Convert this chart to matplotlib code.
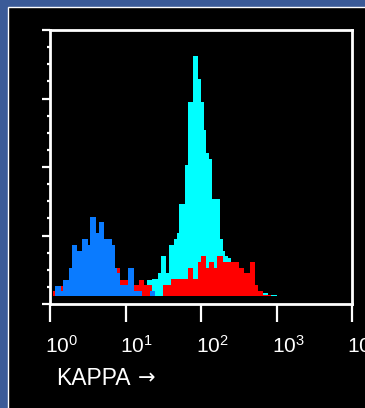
import numpy as np
import matplotlib
matplotlib.use("Agg")
import matplotlib.pyplot as plt
from matplotlib.patches import Rectangle
from matplotlib.ticker import LogLocator, NullFormatter, FixedLocator
import matplotlib.transforms as mtransforms

plt.rcParams["font.family"] = ["Liberation Sans", "DejaVu Sans"]
plt.rcParams["mathtext.fontset"] = "custom"
plt.rcParams["mathtext.rm"] = "Liberation Sans"

# histogram bins: 28 per decade, starting at 10^0
bins_per_decade = 28
n_bins = 84
edges = 10 ** (np.arange(n_bins + 1) / bins_per_decade)

# counts per bin
blue_counts = [0, 0, 10, 10, 5, 16, 16, 28, 51, 51, 45, 45, 57, 57, 51, 79, 79, 63, 74, 74,
               57, 57, 57, 51, 28, 23, 11, 11, 11, 28, 28, 5, 5, 5, 0, 0, 0, 5, 5, 0,
               0, 0, 0, 0, 0, 0, 0, 0, 0, 0, 0, 0, 0, 0, 0, 0, 0, 0, 0, 0,
               0, 0, 0, 0, 0, 0, 0, 0, 0, 0, 0, 0, 0, 0, 0, 0, 0, 0, 0, 0,
               0, 0, 0, 0]
red_counts = [0, 5, 3, 3, 10, 6, 8, 8, 10, 10, 12, 10, 14, 12, 14, 16, 14, 18, 16, 20,
              18, 20, 22, 24, 28, 28, 16, 16, 16, 11, 11, 11, 11, 16, 16, 11, 11, 11, 0, 0,
              0, 0, 11, 11, 11, 17, 17, 17, 17, 17, 17, 28, 28, 17, 17, 34, 40, 40, 28, 34,
              34, 28, 40, 40, 34, 34, 34, 34, 34, 34, 28, 28, 23, 23, 34, 34, 11, 5, 5, 1.5,
              1.5, 1.5, 0, 0]
cyan_counts = [0, 0, 0, 0, 0, 0, 0, 0, 0, 0, 0, 0, 0, 0, 0, 0, 0, 0, 0, 0,
               0, 0, 0, 0, 0, 0, 0, 0, 0, 0, 0, 0, 0, 0, 0, 11, 16, 16, 17, 17,
               23, 40, 40, 23, 51, 51, 57, 63, 92, 92, 131, 194, 194, 240, 240, 217, 194, 166, 143, 137,
               97, 97, 97, 57, 45, 40, 38, 25, 20, 15, 10, 6, 3, 3, 3, 3, 3, 3, 3, 3,
               3, 1, 1, 1]

decades = [0, 1, 2, 3, 4]
x_label = "KAPPA"

fig = plt.figure(figsize=(3.65, 4.08), dpi=100)
fig.patch.set_facecolor("#3b5b98")
panel = Rectangle((8 / 365, -0.01), 1.0, 1 - 7 / 408 + 0.01, transform=fig.transFigure,
                  facecolor="black", edgecolor="white", linewidth=1, zorder=-10)
fig.add_artist(panel)

ax = fig.add_axes([50 / 365, 104 / 408, 302 / 365, 274 / 408])
ax.set_facecolor("black")

ax.stairs(cyan_counts, edges, fill=True, color="#00ffff")
ax.stairs(red_counts, edges, fill=True, color="#ff0000")
ax.stairs(blue_counts, edges, fill=True, color="#0a7bff")

ax.set_xscale("log")
ax.set_xlim(1, 1e4)
ymin, ymax = -8, 266
ax.set_ylim(ymin, ymax)

for s in ax.spines.values():
    s.set_color("white")
    s.set_linewidth(2)

ax.xaxis.set_major_locator(FixedLocator([10.0 ** d for d in decades]))
ax.xaxis.set_minor_locator(LogLocator(base=10, subs=(2, 4, 6, 8)))
ax.xaxis.set_minor_formatter(NullFormatter())
ax.set_xticklabels([r"$\mathregular{10^{%d}}$" % d for d in decades])
ax.tick_params(axis="x", which="major", length=13, width=1.6, colors="white",
               labelsize=15, pad=9)
ax.tick_params(axis="x", which="minor", length=5, width=1.6, colors="white")
for lab in ax.get_xticklabels():
    lab.set_horizontalalignment("left")
    lab.set_transform(lab.get_transform() + mtransforms.ScaledTranslation(-5 / 100, 0, fig.dpi_scale_trans))

ax.yaxis.set_major_locator(FixedLocator(np.linspace(ymin, ymax, 5)))
ax.yaxis.set_minor_locator(FixedLocator(np.linspace(ymin, ymax, 17)))
ax.set_yticklabels([])
ax.tick_params(axis="y", which="major", length=6, width=1.6, colors="white")
ax.tick_params(axis="y", which="minor", length=2.5, width=1.6, colors="white")

xl = ax.set_xlabel(x_label, color="white", fontsize=16.5, loc="left")
ax.xaxis.set_label_coords(0.02, -0.23)
# arrow after the axis name, in a font with a full-size arrow glyph
ax.annotate("\u2192", xy=(1, 0.5), xycoords=xl, xytext=(5, 0), textcoords="offset points",
            ha="left", va="center", color="white", fontsize=15, family="DejaVu Sans")

fig.savefig("out.png", dpi=100, facecolor=fig.get_facecolor())
